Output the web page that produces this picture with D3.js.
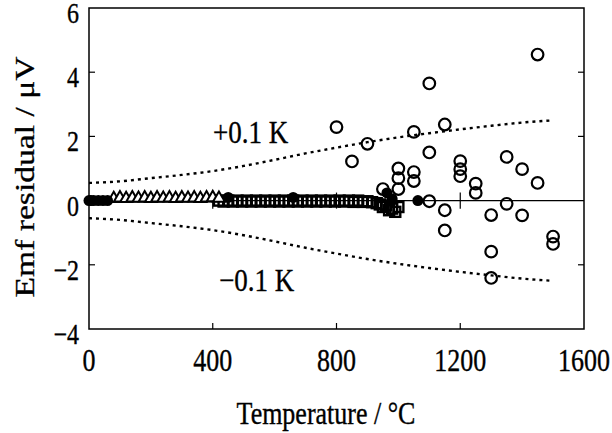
<!DOCTYPE html>
<html>
<head>
<meta charset="utf-8">
<script src="https://cdn.jsdelivr.net/npm/d3@7"></script>
<style>
  body { margin: 0; background: #fff; }
  text { font-family: "Liberation Serif", "Times New Roman", serif; fill: #000; stroke: #000; stroke-width: 0.3; }
</style>
</head>
<body>
<div id="chart"></div>
<script>
// open circles, high-temperature points
const openCircles = [
  [800, 2.29], [850, 1.22], [900, 1.77], [950, 0.36],
  [1000, 1.0], [1000, 0.7], [1000, 0.36],
  [1050, 2.14], [1050, 0.89], [1050, 0.61],
  [1100, 3.65], [1100, 1.5], [1100, -0.02],
  [1150, 2.37], [1150, -0.3], [1150, -0.93],
  [1200, 1.23], [1200, 0.98], [1200, 0.76],
  [1250, 0.53], [1250, 0.24],
  [1300, -0.45], [1300, -1.59], [1300, -2.41],
  [1350, 1.36], [1350, -0.1],
  [1400, 0.98], [1400, -0.46],
  [1450, 4.55], [1450, 0.55],
  [1500, -1.12], [1500, -1.35]
];

// filled circles
const filledCircles = [
  [0, 0], [6, 0], [15, 0], [30, 0], [45, 0], [60, 0], [450, 0.1], [660, 0.1],
  [963, 0.24], [980, 0.05], [1063, 0]
];

// open triangles
const triangles = [
  [80, 0.03], [100, 0.05], [120, 0.03], [140, 0.05], [160, 0.04], [180, 0.05],
  [200, 0.03], [220, 0.05], [240, 0.04], [260, 0.05], [280, 0.03], [300, 0.05],
  [320, 0.04], [340, 0.05], [360, 0.03], [380, 0.05], [400, 0.06], [420, 0.04]
];

// open squares
const squares = [
  [420, 0], [435, -0.03], [450, 0], [465, -0.03], [480, 0], [495, -0.03],
  [510, 0], [525, -0.03], [540, 0], [555, -0.03], [570, 0], [585, -0.03],
  [600, 0], [615, -0.03], [630, 0], [645, -0.03], [660, 0], [675, -0.03],
  [690, 0], [705, -0.03], [720, 0], [735, -0.03], [750, 0], [765, -0.03],
  [780, 0], [795, -0.03], [810, 0], [825, -0.03], [840, 0], [855, -0.04],
  [870, 0], [885, -0.04], [900, -0.02], [915, -0.05], [930, -0.08],
  [940, -0.12], [950, -0.2], [960, -0.15], [970, -0.3], [980, -0.25],
  [990, -0.35], [1000, -0.2]
];

// +-0.1 K envelope
const envelopeT = [0, 100, 200, 300, 400, 500, 600, 700, 800, 900, 1000, 1100, 1200, 1300, 1400, 1500];
const envelopeV = [0.55, 0.6, 0.7, 0.8, 0.92, 1.08, 1.27, 1.47, 1.65, 1.82, 1.97, 2.1, 2.22, 2.33, 2.43, 2.5];

const xTicks = [0, 400, 800, 1200, 1600];
const yTicks = [-4, -2, 0, 2, 4, 6];

const width = 612, height = 433;
const margin = { top: 8, right: 28, bottom: 104, left: 89 };
const stretch = 1.2;   // the scan is taller than it is wide

const svg = d3.select('#chart')
    .append('svg')
    .attr('width', width)
    .attr('height', height);

const x = d3.scaleLinear().domain([0, 1600]).range([margin.left, width - margin.right]);
const y = d3.scaleLinear().domain([-4, 6]).range([height - margin.bottom, margin.top]);

const plot = svg.append('g');

// frame
plot.append('rect')
    .attr('x', x(0)).attr('y', y(6))
    .attr('width', x(1600) - x(0)).attr('height', y(-4) - y(6))
    .attr('fill', 'none').attr('stroke', '#000').attr('stroke-width', 1.5);

// inward ticks
const tickLen = 6;
[-2, 2, 4].forEach(v => {
  plot.append('line').attr('x1', x(0)).attr('x2', x(0) + tickLen)
      .attr('y1', y(v)).attr('y2', y(v)).attr('stroke', '#000').attr('stroke-width', 1.2);
  plot.append('line').attr('x1', x(1600)).attr('x2', x(1600) - tickLen)
      .attr('y1', y(v)).attr('y2', y(v)).attr('stroke', '#000').attr('stroke-width', 1.2);
});
[400, 800, 1200].forEach(t => {
  plot.append('line').attr('x1', x(t)).attr('x2', x(t))
      .attr('y1', y(-4)).attr('y2', y(-4) - tickLen).attr('stroke', '#000').attr('stroke-width', 1.2);
  // small marks on the zero line
  plot.append('line').attr('x1', x(t)).attr('x2', x(t))
      .attr('y1', y(-0.25)).attr('y2', y(0.25)).attr('stroke', '#000').attr('stroke-width', 1.2);
});

// zero line
plot.append('line')
    .attr('x1', x(0)).attr('x2', x(1600))
    .attr('y1', y(0)).attr('y2', y(0))
    .attr('stroke', '#000').attr('stroke-width', 1.2);

// dotted envelopes
const line = d3.line().curve(d3.curveMonotoneX);
[1, -1].forEach(s => {
  plot.append('path')
      .attr('d', line(envelopeT.map((t, i) => [x(t), y(s * envelopeV[i])])))
      .attr('fill', 'none').attr('stroke', '#000')
      .attr('stroke-width', 2.4).attr('stroke-dasharray', '3,4');
});

// squares
plot.selectAll('.sq').data(squares).enter().append('rect')
    .attr('x', d => x(d[0]) - 5).attr('y', d => y(d[1]) - 5)
    .attr('width', 10).attr('height', 10)
    .attr('fill', 'none').attr('stroke', '#000').attr('stroke-width', 2.4);

// triangles
const triSym = d3.symbol().type(d3.symbolTriangle).size(62);
plot.selectAll('.tri').data(triangles).enter().append('path')
    .attr('transform', d => `translate(${x(d[0])},${y(d[1]) - 1})`)
    .attr('d', triSym)
    .attr('fill', '#fff').attr('stroke', '#000').attr('stroke-width', 2);

// filled circles
plot.selectAll('.fc').data(filledCircles).enter().append('circle')
    .attr('cx', d => x(d[0])).attr('cy', d => y(d[1])).attr('r', 5.5)
    .attr('fill', '#000');

// open circles
plot.selectAll('.oc').data(openCircles).enter().append('circle')
    .attr('cx', d => x(d[0])).attr('cy', d => y(d[1])).attr('r', 5.8)
    .attr('fill', 'none').attr('stroke', '#000').attr('stroke-width', 2.2);

// stretched text helper
function label(px, py, str, size, anchor, rotate) {
  svg.append('text')
      .attr('transform', `translate(${px},${py}) scale(1,${stretch})` + (rotate ? ' rotate(-90)' : ''))
      .attr('text-anchor', anchor).attr('font-size', size)
      .text(str);
}

// tick labels
xTicks.forEach(d => label(x(d), 371, d, 26, 'middle'));
yTicks.forEach(d => label(79, y(d) + 15, d < 0 ? '\u2212' + Math.abs(d) : d, 24, 'end'));

// axis titles
label(326, 424, 'Temperature / \u00b0C', 26, 'middle');
label(34, 177, 'Emf residual / \u03bcV', 28, 'middle', true);

// envelope labels
label(213, 143, '+0.1 K', 27, 'start');
label(219, 291, '\u22120.1 K', 27, 'start');
</script>
</body>
</html>
